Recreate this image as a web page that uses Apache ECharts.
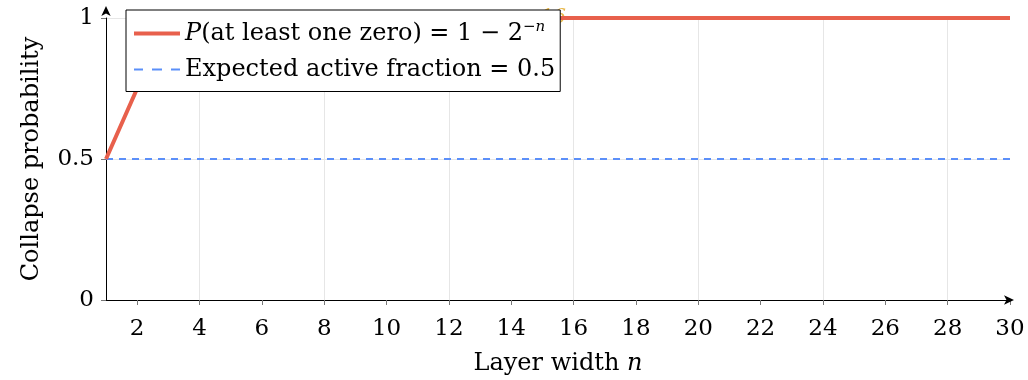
<!DOCTYPE html>
<html lang="en">
<head>
  <meta charset="UTF-8">
  <title>Collapse probability</title>
  <script src="https://cdn.jsdelivr.net/npm/echarts@6/dist/echarts.min.js"></script>
</head>
<body style="margin:0">
  <div id="app" style="width: 1028px; height: 380px;"></div>
  <script>
    // layer widths n = 1..30
    var widths = [1, 2, 3, 4, 5, 6, 7, 8, 9, 10, 11, 12, 13, 14, 15, 16, 17, 18, 19, 20, 21, 22, 23, 24, 25, 26, 27, 28, 29, 30]
    // P(at least one zero)
    var collapseProb = [0.5, 0.75, 0.875, 0.938, 0.969, 0.984, 0.992, 0.996, 0.998, 0.999, 1, 1, 1, 1, 1, 1, 1, 1, 1, 1, 1, 1, 1, 1, 1, 1, 1, 1, 1, 1]
    var activeFraction = [0.5, 0.5]
    var activeX = [1, 30]
    var xTickValues = [2, 4, 6, 8, 10, 12, 14, 16, 18, 20, 22, 24, 26, 28, 30]

    var font = 'DejaVu Serif'
    var mCharts = echarts.init(document.querySelector('#app'))
    var option = {
      animation: false,
      textStyle: { fontFamily: font, color: '#000' },
      grid: { left: 106, right: 18, top: 18, bottom: 80, outerBoundsMode: 'none', containLabel: false },
      legend: {
        left: 126, top: 10, z: 10,
        orient: 'vertical',
        backgroundColor: '#fff',
        borderColor: '#000', borderWidth: 1, borderRadius: 0,
        padding: [10, 5, 10, 8],
        itemGap: 12,
        itemWidth: 46, itemHeight: 16,
        textStyle: {
          fontFamily: font, fontSize: 24, color: '#000',
          rich: {
            it: { fontFamily: font, fontStyle: 'italic', fontSize: 24 },
            sup: { fontFamily: font, fontStyle: 'italic', fontSize: 15, verticalAlign: 'bottom', padding: [0, 0, 12, 0] }
          }
        },
        formatter: function (name) {
          if (name === 'P') return '{it|P}(at least one zero) = 1 − 2{sup|−n}'
          return name
        },
        data: [
          { name: 'P', icon: 'path://M0,0 L46,0 L46,4 L0,4 Z' },
          { name: 'Expected active fraction = 0.5', icon: 'path://M0,0 L9,0 L9,2 L0,2 Z M18,0 L28,0 L28,2 L18,2 Z M37,0 L46,0 L46,2 L37,2 Z' }
        ]
      },
      xAxis: {
        type: 'value', min: 1, max: 30, interval: 1,
        name: 'Layer width {it|n}', nameLocation: 'middle', nameGap: 52,
        nameTextStyle: { fontFamily: font, fontSize: 24, color: '#000',
          rich: { it: { fontFamily: font, fontStyle: 'italic', fontSize: 24 } } },
        axisLine: { lineStyle: { color: '#000', width: 1 }, symbol: ['none', 'arrow'], symbolSize: [7, 10], symbolOffset: [0, 4] },
        axisTick: { customValues: xTickValues, length: 5, inside: false, lineStyle: { color: '#777' } },
        axisLabel: { customValues: xTickValues, fontFamily: font, fontSize: 23, color: '#000', margin: 18 },
        splitLine: { show: true, lineStyle: { color: ['rgba(0,0,0,0)', '#e6e6e6'], width: 1 } }
      },
      yAxis: {
        type: 'value', min: 0, max: 1, interval: 0.5,
        name: 'Collapse probability', nameLocation: 'middle', nameGap: 62,
        nameTextStyle: { fontFamily: font, fontSize: 24, color: '#000' },
        axisLine: { show: true, lineStyle: { color: '#000', width: 1 }, symbol: ['none', 'arrow'], symbolSize: [7, 10], symbolOffset: [0, 12] },
        axisTick: { show: true, length: 5, lineStyle: { color: '#777' } },
        axisLabel: { fontFamily: font, fontSize: 23, color: '#000', margin: 12 },
        splitLine: { show: true, lineStyle: { color: '#e6e6e6', width: 1 } }
      },
      series: [
        {
          name: 'P', type: 'line', z: 3,
          data: widths.map(function (n, i) { return [n, collapseProb[i]] }),
          showSymbol: false, symbol: 'none',
          lineStyle: { color: '#e8604c', width: 4 },
          itemStyle: { color: '#e8604c' },
          markPoint: {
            z: 2,
            symbol: 'circle', symbolSize: 0,
            label: { show: true, formatter: 'n = 16', align: 'right', offset: [8, 0],
              fontFamily: font, fontStyle: 'italic', fontSize: 20, color: '#e8b84a' },
            data: [{ coord: [15.5, 1] }]
          }
        },
        {
          name: 'Expected active fraction = 0.5', type: 'line', z: 2,
          data: activeX.map(function (x, i) { return [x, activeFraction[i]] }),
          showSymbol: false, symbol: 'none',
          lineStyle: { color: '#5b8ff9', width: 2, type: [7, 6] },
          itemStyle: { color: '#5b8ff9' }
        }
      ]
    }
    mCharts.setOption(option)
  </script>
</body>
</html>
